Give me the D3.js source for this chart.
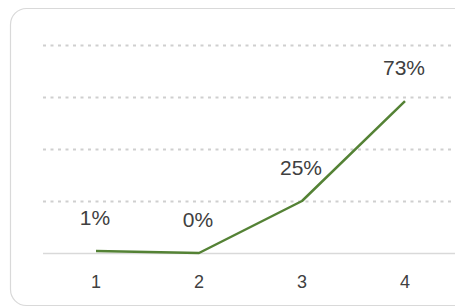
<!DOCTYPE html>
<html>
<head>
<meta charset="utf-8">
<script src="https://cdn.jsdelivr.net/npm/d3@7"></script>
<style>
  html, body { margin: 0; padding: 0; background: #fff; overflow: hidden; }
  svg { display: block; }
</style>
</head>
<body>
<svg id="chart" width="455" height="308"></svg>
<script>
const categories = ["1", "2", "3", "4"];
const values = [1, 0, 25, 73];
const valueLabels = ["1%", "0%", "25%", "73%"];
const gridTicks = [25, 50, 75, 100];

const W = 455, H = 308;
const svg = d3.select("#chart");

// chart area border (rounded, running past right edge)
svg.append("rect")
  .attr("x", 10.5).attr("y", 8.5)
  .attr("width", 470).attr("height", 297)
  .attr("rx", 16).attr("ry", 16)
  .attr("fill", "#fff")
  .attr("stroke", "#d9d9d9")
  .attr("stroke-width", 1.2);

const x = d3.scaleBand().domain(categories).range([44.5, 456.5]).padding(0);
const y = d3.scaleLinear().domain([0, 100]).range([253, 45]);

// gridlines
svg.append("g")
  .selectAll("line")
  .data(gridTicks)
  .join("line")
  .attr("x1", 43).attr("x2", W)
  .attr("y1", d => Math.round(y(d)) + 0.5)
  .attr("y2", d => Math.round(y(d)) + 0.5)
  .attr("stroke", "#cfcfcf")
  .attr("stroke-width", 2)
  .attr("stroke-dasharray", "3,4.5");

// x axis
const xAxis = d3.axisBottom(x).tickSize(0).tickPadding(22);
const gx = svg.append("g")
  .attr("transform", `translate(0,${y(0)})`)
  .call(xAxis);
gx.select(".domain").remove();
gx.append("line")
  .attr("x1", 43).attr("x2", W)
  .attr("y1", 0.5).attr("y2", 0.5)
  .attr("stroke", "#d9d9d9")
  .attr("stroke-width", 1.5);
gx.selectAll(".tick text")
  .attr("font-family", "'Liberation Sans', Arial, sans-serif")
  .attr("font-size", 18)
  .attr("fill", "#404040");

const cx = d => x(d) + x.bandwidth() / 2;

// line
const line = d3.line()
  .x((d, i) => cx(categories[i]))
  .y(d => y(d));
svg.append("path")
  .datum(values)
  .attr("d", line)
  .attr("fill", "none")
  .attr("stroke", "#548235")
  .attr("stroke-width", 2.5)
  .attr("stroke-linejoin", "round");

// data labels
svg.append("g")
  .selectAll("text")
  .data(values)
  .join("text")
  .attr("x", (d, i) => cx(categories[i]) - 1)
  .attr("y", d => y(d) - 26)
  .attr("text-anchor", "middle")
  .attr("font-family", "'Liberation Sans', Arial, sans-serif")
  .attr("font-size", 21)
  .attr("fill", "#404040")
  .text((d, i) => valueLabels[i]);
</script>
</body>
</html>
